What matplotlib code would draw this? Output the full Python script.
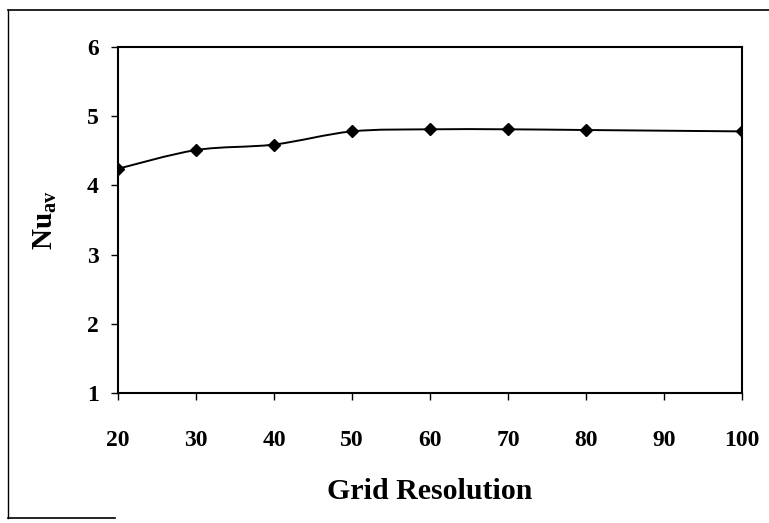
"""Grid independence study: average Nusselt number vs grid resolution."""

import matplotlib
matplotlib.use("Agg")
import matplotlib.pyplot as plt
import numpy as np
from matplotlib.lines import Line2D
from matplotlib.patches import PathPatch
from matplotlib.path import Path

grid_resolution = [20, 30, 40, 50, 60, 70, 80, 100]
nu_av = [4.24, 4.51, 4.59, 4.78, 4.81, 4.81, 4.80, 4.78]
x_ticks = [20, 30, 40, 50, 60, 70, 80, 90, 100]
y_ticks = [1, 2, 3, 4, 5, 6]

plt.rcParams["font.family"] = ["Liberation Serif", "DejaVu Serif"]
plt.rcParams["font.weight"] = "bold"
plt.rcParams["mathtext.fontset"] = "custom"
plt.rcParams["mathtext.rm"] = "Liberation Serif:bold"
plt.rcParams["mathtext.bf"] = "Liberation Serif:bold"


def smooth_path(xs, ys, tension=1 / 6):
    """Catmull-Rom style bezier path through the points (Excel smoothed line)."""
    pts = np.column_stack([xs, ys]).astype(float)
    verts = [pts[0]]
    codes = [Path.MOVETO]
    for i in range(len(pts) - 1):
        p0 = pts[max(i - 1, 0)]
        p1 = pts[i]
        p2 = pts[i + 1]
        p3 = pts[min(i + 2, len(pts) - 1)]
        c1 = p1 + (p2 - p0) * tension
        c2 = p2 - (p3 - p1) * tension
        verts += [c1, c2, p2]
        codes += [Path.CURVE4] * 3
    return Path(verts, codes)


fig = plt.figure(figsize=(7.69, 5.23), dpi=100)
ax = fig.add_axes([0.1534, 0.2486, 0.8116, 0.6616])

ax.add_patch(PathPatch(smooth_path(grid_resolution, nu_av), facecolor="none",
                       edgecolor="black", linewidth=1.4))
ax.plot(grid_resolution, nu_av, linestyle="none", marker="D", markersize=6,
        color="black")

ax.set_xlim(20, 100)
ax.set_ylim(1, 6)
ax.set_xticks(x_ticks)
ax.set_yticks(y_ticks)
ax.tick_params(axis="both", labelsize=17, length=5, width=1, direction="out",
               colors="black")
ax.tick_params(axis="x", pad=22)
ax.tick_params(axis="y", pad=9)
for label in ax.get_xticklabels() + ax.get_yticklabels():
    label.set_fontweight("bold")
for spine in ax.spines.values():
    spine.set_linewidth(1.5)

ax.set_xlabel("Grid Resolution", fontsize=21.5, fontweight="bold", labelpad=19)
ax.set_ylabel(r"$\mathbf{Nu}_{\mathbf{av}}$", fontsize=21, labelpad=20)

# scanned page frame
fig.add_artist(Line2D([8 / 769, 1.0], [1 - 10 / 523, 1 - 10 / 523],
                      color="black", linewidth=1.2))
fig.add_artist(Line2D([8 / 769, 8 / 769], [1 - 10 / 523, 1 - 518 / 523],
                      color="black", linewidth=1.0))
fig.add_artist(Line2D([8 / 769, 115 / 769], [1 - 518 / 523, 1 - 518 / 523],
                      color="black", linewidth=1.2))

fig.savefig("out.png", dpi=100)
